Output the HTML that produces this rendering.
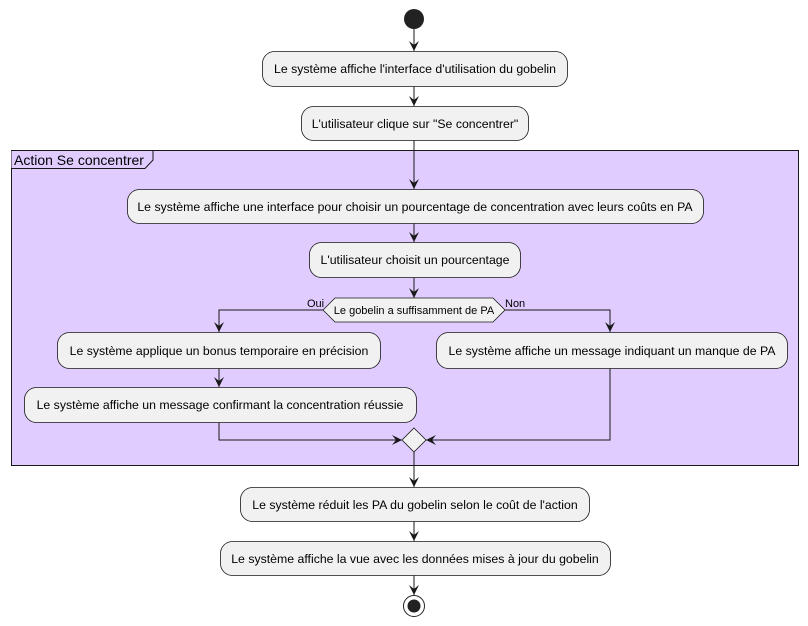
<!DOCTYPE html>
<html><head><meta charset="utf-8"><style>
html,body{margin:0;padding:0;background:#fff;}
svg{display:block;font-family:"Liberation Sans",sans-serif;}
</style></head><body>
<svg width="808" height="626" viewBox="0 0 808 626" xmlns="http://www.w3.org/2000/svg">
<defs>
<marker id="a" viewBox="0 0 10 10" refX="10" refY="5" markerWidth="10" markerHeight="10" markerUnits="userSpaceOnUse" orient="auto">
<path d="M0,0 L10,5 L0,10 L4,5 Z" fill="#181818"/></marker>
</defs>
<g stroke="#181818" stroke-width="1" fill="none">
<rect x="11.5" y="150.5" width="787" height="315" fill="#E0CCFF"/>
<path d="M11.5,150.5 H153 V160 L145,168.5 H11.5" fill="#E0CCFF"/>
</g>
<text x="14" y="165" font-size="14" fill="#000">Action Se concentrer</text>
<circle cx="414" cy="19" r="10" fill="#222"/>
<g stroke="#181818" stroke-width="1" fill="none">
<line x1="414" y1="29" x2="414" y2="51" marker-end="url(#a)"/>
<line x1="414" y1="86" x2="414" y2="106" marker-end="url(#a)"/>
<line x1="414" y1="140" x2="414" y2="189" marker-end="url(#a)"/>
<line x1="414" y1="223" x2="414" y2="242" marker-end="url(#a)"/>
<line x1="414" y1="277" x2="414" y2="298" marker-end="url(#a)"/>
<path d="M323,310 H219 V332" marker-end="url(#a)"/>
<path d="M505,310 H610 V332" marker-end="url(#a)"/>
<line x1="219" y1="368" x2="219" y2="387" marker-end="url(#a)"/>
<path d="M219,422 V440 H402" marker-end="url(#a)"/>
<path d="M610,368 V440 H426" marker-end="url(#a)"/>
<line x1="414" y1="452" x2="414" y2="487" marker-end="url(#a)"/>
<line x1="414" y1="521" x2="414" y2="541" marker-end="url(#a)"/>
<line x1="414" y1="575" x2="414" y2="595" marker-end="url(#a)"/>
</g>
<g stroke="#181818" stroke-width="0.8" fill="#F1F1F1">
<rect x="262.5" y="51.5" width="305" height="35" rx="12"/>
<rect x="301.5" y="106.5" width="227" height="34" rx="12"/>
<rect x="127.5" y="189.5" width="576" height="34" rx="12"/>
<rect x="309.5" y="242.5" width="211" height="35" rx="12"/>
<polygon points="323,310 335,298 493,298 505,310 493,322 335,322"/>
<rect x="57.5" y="332.5" width="323" height="36" rx="12"/>
<rect x="24.5" y="387.5" width="392" height="35" rx="12"/>
<rect x="436.5" y="332.5" width="351" height="36" rx="12"/>
<polygon points="414,428 426,440 414,452 402,440"/>
<rect x="240.5" y="487.5" width="349" height="34" rx="12"/>
<rect x="220.5" y="541.5" width="390" height="34" rx="12"/>
</g>
<circle cx="414" cy="606" r="10.5" fill="none" stroke="#222" stroke-width="1"/>
<circle cx="414" cy="606" r="6.5" fill="#222"/>
<g font-size="12.3" fill="#000" text-anchor="middle">
<text x="415" y="73">Le système affiche l'interface d'utilisation du gobelin</text>
<text x="415" y="128">L'utilisateur clique sur "Se concentrer"</text>
<text x="415" y="211">Le système affiche une interface pour choisir un pourcentage de concentration avec leurs coûts en PA</text>
<text x="415" y="264">L'utilisateur choisit un pourcentage</text>
<text x="219" y="355">Le système applique un bonus temporaire en précision</text>
<text x="220" y="409">Le système affiche un message confirmant la concentration réussie</text>
<text x="612" y="355">Le système affiche un message indiquant un manque de PA</text>
<text x="415" y="509">Le système réduit les PA du gobelin selon le coût de l'action</text>
<text x="415" y="563">Le système affiche la vue avec les données mises à jour du gobelin</text>
</g>
<g font-size="11" fill="#000">
<text x="414" y="314" text-anchor="middle">Le gobelin a suffisamment de PA</text>
<text x="307" y="307">Oui</text>
<text x="505" y="307">Non</text>
</g>
</svg>
</body></html>
